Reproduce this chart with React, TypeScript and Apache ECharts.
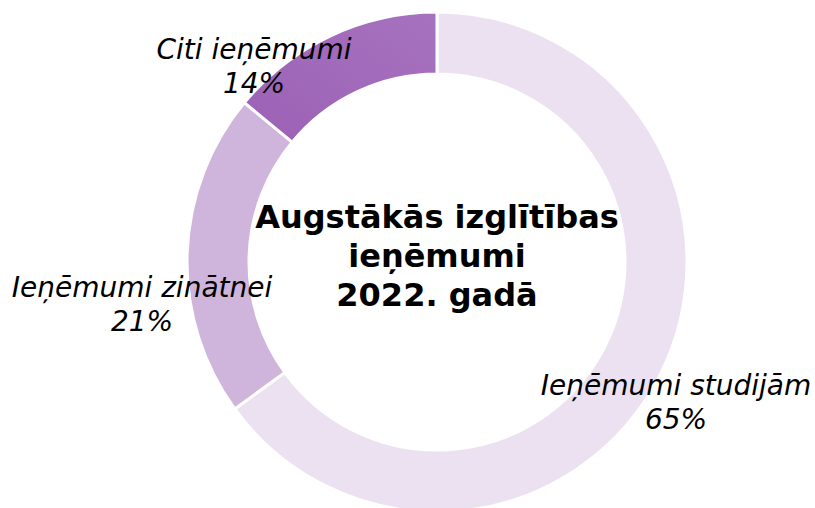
import React, { useEffect, useRef } from "react";
import * as echarts from "echarts";

const categories = ["Ieņēmumi studijām", "Ieņēmumi zinātnei", "Citi ieņēmumi"];
const shares = [65, 21, 14];
const centerTitle = ["Augstākās izglītības", "ieņēmumi", "2022. gadā"];

// label anchor positions (px) for each slice label
const labelPositions: [number, number][] = [
  [676, 402],
  [142, 304],
  [254, 66],
];

export default function App() {
  const ref = useRef<HTMLDivElement>(null);
  useEffect(() => {
    if (!ref.current) return;
    const chart = echarts.init(ref.current, null, { renderer: "svg" });
    const colors: any[] = [
      "#ebe1f0",
      "#cfb5dc",
      new echarts.graphic.LinearGradient(1, 0, 0, 1, [
        { offset: 0, color: "#a672bf" },
        { offset: 1, color: "#9c61b5" },
      ]),
    ];
    chart.setOption({
      animation: false,
      backgroundColor: "#ffffff",
      graphic: [
        {
          type: "text",
          x: 437,
          y: 256,
          style: {
            text: centerTitle.join("\n"),
            textAlign: "center",
            textVerticalAlign: "middle",
            font: "bold 32px 'DejaVu Sans', Verdana, sans-serif",
            lineHeight: 39,
            fill: "#000000",
          },
          z: 100,
        },
      ],
      series: [
        {
          type: "pie",
          center: [437, 262],
          radius: [188, 250],
          startAngle: 90,
          clockwise: true,
          avoidLabelOverlap: false,
          itemStyle: { borderColor: "#ffffff", borderWidth: 3 },
          emphasis: { disabled: true },
          labelLine: { show: false },
          label: {
            show: true,
            position: "outside",
            formatter: (p: any) => `${p.name}\n${p.value}%`,
            fontFamily: "'DejaVu Sans', Verdana, sans-serif",
            fontStyle: "italic",
            fontSize: 28,
            lineHeight: 34,
            color: "#000000",
            align: "center",
          },
          labelLayout: (params: any) => {
            const p = labelPositions[params.dataIndex];
            return { x: p[0], y: p[1], align: "center", verticalAlign: "middle" };
          },
          data: categories.map((name, i) => ({
            name,
            value: shares[i],
            itemStyle: { color: colors[i] },
          })),
        },
      ],
    });
    return () => chart.dispose();
  }, []);
  return (
    <div
      ref={ref}
      style={{ position: "fixed", left: 0, top: 0, width: 815, height: 508 }}
    />
  );
}
